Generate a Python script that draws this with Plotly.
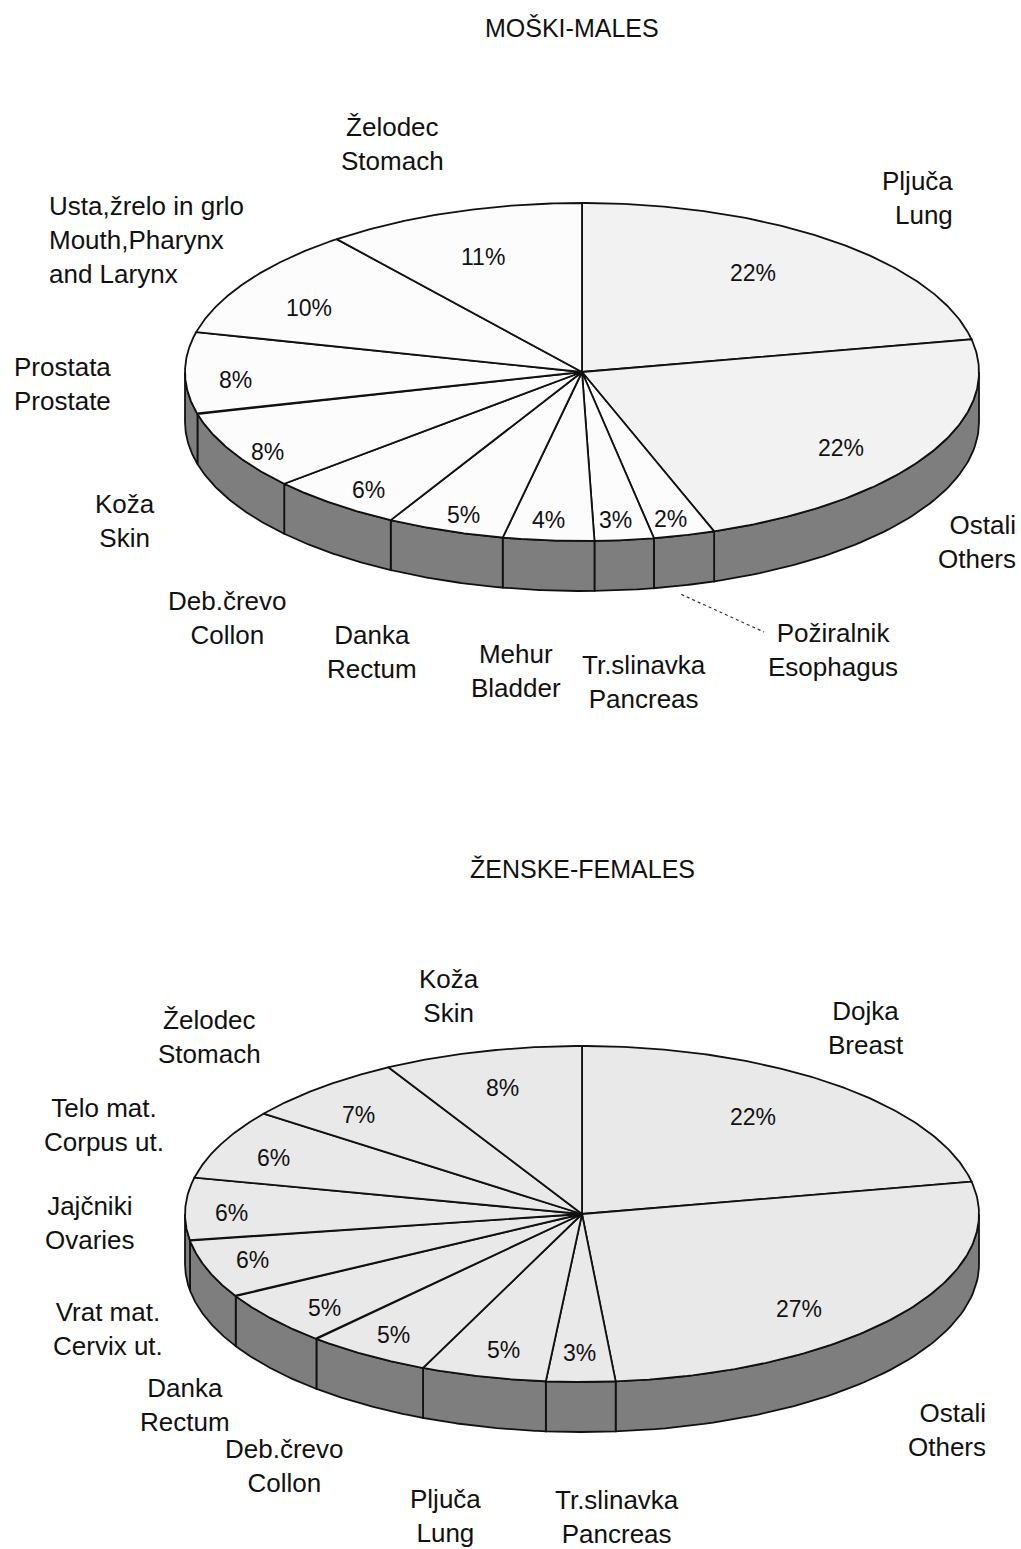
import numpy as np
import plotly.graph_objects as go

# ---------------- data ----------------
male_title = "MOŠKI-MALES"
male_names = ["Pljuča<br>Lung", "Ostali<br>Others", "Požiralnik<br>Esophagus",
              "Tr.slinavka<br>Pancreas", "Mehur<br>Bladder", "Danka<br>Rectum",
              "Deb.črevo<br>Collon", "Koža<br>Skin", "Prostata<br>Prostate",
              "Usta,žrelo in grlo<br>Mouth,Pharynx<br>and Larynx", "Želodec<br>Stomach"]
# printed percentages
male_pct = [22, 22, 2, 3, 4, 5, 6, 8, 8, 10, 11]
# slice shares as drawn
male_share = [21.9, 22.7, 2.5, 2.4, 3.7, 4.8, 5.5, 7.5, 7.8, 10.6, 10.6]

female_title = "ŽENSKE-FEMALES"
female_names = ["Dojka<br>Breast", "Ostali<br>Others", "Tr.slinavka<br>Pancreas",
                "Pljuča<br>Lung", "Deb.črevo<br>Collon", "Danka<br>Rectum",
                "Vrat mat.<br>Cervix ut.", "Jajčniki<br>Ovaries", "Telo mat.<br>Corpus ut.",
                "Želodec<br>Stomach", "Koža<br>Skin"]
female_pct = [22, 27, 3, 5, 5, 5, 6, 6, 6, 7, 8]
female_share = [21.9, 26.7, 2.8, 5.1, 5.1, 5.2, 5.6, 6.0, 6.7, 6.7, 8.1]

# ---------------- layout / style ----------------
W, H = 1021, 1549
CX = 582
A = 397
DEPTH = 50
FONT = "Liberation Sans, Arial, sans-serif"

male_geom = dict(cy=372, b=169)
female_geom = dict(cy=1214, b=168)

male_fills = ["#f2f2f2", "#f2f2f2"] + ["#fcfcfc"] * 9
female_fills = ["#e9e9e9"] * 11

# outer category label placement (x, y, align)
male_label_pos = [(955, 198, "right"), (1018, 542, "right"), (833, 650, "center"),
                  (644, 682, "center"), (516, 671, "center"), (372, 652, "center"),
                  (227, 618, "center"), (125, 521, "center"), (12, 384, "left"),
                  (47, 240, "left"), (392, 144, "center")]
female_label_pos = [(866, 1028, "center"), (988, 1430, "right"), (617, 1517, "center"),
                    (445, 1516, "center"), (284, 1466, "center"), (185, 1405, "center"),
                    (108, 1329, "center"), (90, 1223, "center"), (104, 1125, "center"),
                    (209, 1037, "center"), (449, 996, "center")]
# percentage label placement (x, y)
male_pct_pos = [(753, 273), (841, 448), (670, 519), (615, 520), (548, 520), (463, 515),
                (368, 490), (267, 452), (235, 380), (309, 308), (483, 257)]
female_pct_pos = [(753, 1117), (799, 1309), (579, 1353), (503, 1350), (393, 1335),
                  (324, 1308), (252, 1260), (231, 1213), (273, 1158), (358, 1115),
                  (502, 1088)]

fig = go.Figure()
annotations = []


def ell(theta_deg, cy, b, r=1.0, dy=0.0):
    t = np.radians(theta_deg)
    return CX + r * A * np.sin(t), cy - r * b * np.cos(t) + dy


def draw_pie(shares, pcts, names, fills, geom, label_pos, pct_pos):
    cy, b = geom["cy"], geom["b"]
    vals = np.array(shares, dtype=float)
    ang = vals / vals.sum() * 360.0
    starts = np.concatenate([[0.0], np.cumsum(ang)[:-1]])
    ends = starts + ang
    # side band (visible front: 90..270 deg clockwise from top)
    for s, e in zip(starts, ends):
        s2, e2 = max(s, 90.0), min(e, 270.0)
        if e2 <= s2:
            continue
        th = np.linspace(s2, e2, 60)
        xt, yt = ell(th, cy, b)
        xb, yb = ell(th[::-1], cy, b, dy=DEPTH)
        xs = np.concatenate([xt, xb, xt[:1]])
        ys = np.concatenate([yt, yb, yt[:1]])
        fig.add_trace(go.Scatter(x=xs, y=ys, mode="lines", fill="toself",
                                 fillcolor="#7e7e7e",
                                 line=dict(color="#111111", width=1.8),
                                 hoverinfo="skip", showlegend=False))
    # top face
    for s, e, fc in zip(starts, ends, fills):
        th = np.linspace(s, e, 120)
        xa, ya = ell(th, cy, b)
        xs = np.concatenate([[CX], xa, [CX]])
        ys = np.concatenate([[cy], ya, [cy]])
        fig.add_trace(go.Scatter(x=xs, y=ys, mode="lines", fill="toself",
                                 fillcolor=fc,
                                 line=dict(color="#111111", width=1.8),
                                 hoverinfo="skip", showlegend=False))
    # percentage labels
    for v, (px, py) in zip(pcts, pct_pos):
        annotations.append(dict(x=px, y=py, xref="x", yref="y", text=f"{v}%",
                                showarrow=False, font=dict(family=FONT, size=23, color="#111"),
                                xanchor="center", yanchor="middle"))
    # category labels
    for name, (lx, ly, al) in zip(names, label_pos):
        annotations.append(dict(x=lx, y=ly, xref="x", yref="y", text=name,
                                showarrow=False, align=al,
                                font=dict(family=FONT, size=26, color="#111"),
                                xanchor=al, yanchor="middle"))
    return starts, ends


m_starts, m_ends = draw_pie(male_share, male_pct, male_names, male_fills, male_geom,
                            male_label_pos, male_pct_pos)
draw_pie(female_share, female_pct, female_names, female_fills, female_geom,
         female_label_pos, female_pct_pos)

# leader line for Esophagus (male slice index 2)
mid = (m_starts[2] + m_ends[2]) / 2
lx0, ly0 = ell(mid, male_geom["cy"], male_geom["b"], r=0.97, dy=DEPTH + 14)
fig.add_trace(go.Scatter(x=[lx0, 764], y=[ly0, 632], mode="lines",
                         line=dict(color="#333", width=1.2, dash="dot"),
                         hoverinfo="skip", showlegend=False))

# titles
annotations.append(dict(x=572, y=28, xref="x", yref="y", text=male_title, showarrow=False,
                        font=dict(family=FONT, size=25, color="#111"), yanchor="middle"))
annotations.append(dict(x=582, y=869, xref="x", yref="y", text=female_title, showarrow=False,
                        font=dict(family=FONT, size=25, color="#111"), yanchor="middle"))

fig.update_layout(width=W, height=H, margin=dict(l=0, r=0, t=0, b=0),
                  paper_bgcolor="white", plot_bgcolor="white",
                  xaxis=dict(range=[0, W], visible=False, fixedrange=True),
                  yaxis=dict(range=[H, 0], visible=False, fixedrange=True),
                  annotations=annotations, showlegend=False)

fig.write_html("out.html",
               config={"displayModeBar": False, "staticPlot": True},
               post_script="document.body.style.margin='0';document.body.style.overflow='hidden';")
